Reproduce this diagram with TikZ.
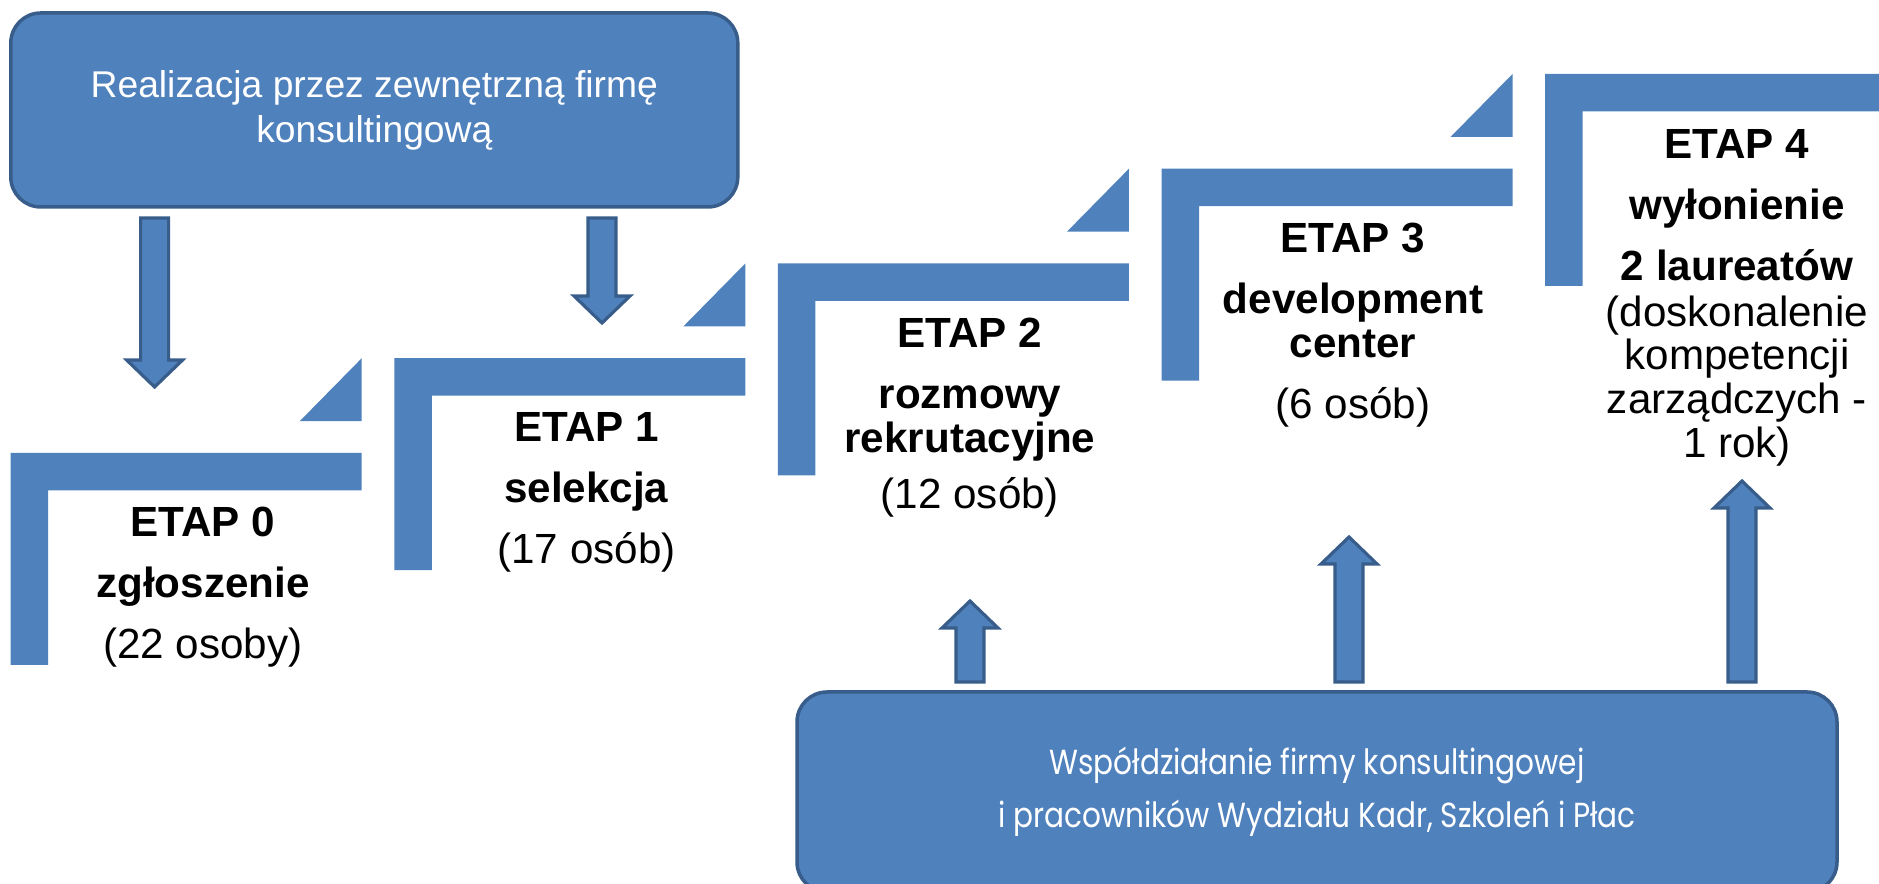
\documentclass[tikz,border=0pt]{standalone}
\usepackage{fontspec}
\setmainfont{Liberation Sans}
\newfontfamily\gothfont[FakeStretch=0.85]{Poppins}
\usepackage{tikz}
\usetikzlibrary{calc}
\definecolor{myblue}{RGB}{79,129,189}
\definecolor{mydarkblue}{RGB}{56,93,138}
\tikzset{
  infobox/.style={rectangle, draw=mydarkblue, fill=myblue, text=white,
    align=center, rounded corners=0.3cm, line width=1pt},
  stepfill/.style={fill=myblue},
  steptext/.style={anchor=north, align=center, inner sep=0pt,
    font=\fontsize{12}{12.5}\selectfont},
  blockarr/.style={draw=mydarkblue, fill=myblue, line width=0.9pt, line join=miter}
}
% fat outlined arrow from #1 (tail) to #2 (tip)
\newcommand{\blockarrow}[2]{%
  \coordinate (ah) at ($(#2)!0.27cm!(#1)$);
  \draw[blockarr] ($(#1)!0.14cm!90:(#2)$) -- ($(ah)!0.14cm!90:(#2)$)
    -- ($(ah)!0.28cm!90:(#2)$) -- (#2) -- ($(ah)!0.28cm!-90:(#2)$)
    -- ($(ah)!0.14cm!-90:(#2)$) -- ($(#1)!0.14cm!-90:(#2)$) -- cycle;
}

\begin{document}
\begin{tikzpicture}
  \useasboundingbox (0,0) rectangle (18.79,8.84);
  \clip (0,0) rectangle (18.79,8.84);

  % Steps (corner shapes and small triangles)
  \foreach \i in {0,...,4} {
    \pgfmathsetmacro\xa{0.107+3.836*\i}
    \pgfmathsetmacro\ya{4.31+0.9475*\i}
    \fill[stepfill] (\xa,\ya) -- ++(3.51,0) -- ++(0,-0.375) -- ++(-3.135,0)
      -- ++(0,-1.745) -- ++(-0.375,0) -- cycle;
    \ifnum\i<4
      \fill[stepfill] (\xa+3.51,\ya+0.9475) -- ++(0,-0.63) -- ++(-0.62,0) -- cycle;
    \fi
  }

  % Step labels
  \node[steptext] (etap0) at (2.03,3.775)
    {\textbf{ETAP 0}\\[4.85pt]\textbf{zgłoszenie}\\[4.85pt](22 osoby)};
  \node[steptext] (etap1) at (5.865,4.7225)
    {\textbf{ETAP 1}\\[4.85pt]\textbf{selekcja}\\[4.85pt](17 osób)};
  \node[steptext] (etap2) at (9.70,5.67)
    {\textbf{ETAP 2}\\[4.85pt]\textbf{rozmowy}\\\textbf{rekrutacyjne}\\[3.6pt](12 osób)};
  \node[steptext] (etap3) at (13.53,6.6175)
    {\textbf{ETAP 3}\\[4.85pt]\textbf{development}\\\textbf{center}\\[4.85pt](6 osób)};
  \node[steptext] (etap4) at (17.37,7.55)
    {\textbf{ETAP 4}\\[4.85pt]\textbf{wyłonienie}\\[4.85pt]\textbf{2 laureatów}\\[0.4pt]
     (doskonalenie\\kompetencji\\zarządczych -\\1 rok)};

  % Top and bottom boxes
  \node[infobox, minimum width=7.27cm, minimum height=1.94cm,
    font=\fontsize{10.6}{12.8}\selectfont] (firma) at (3.743,7.74)
    {Realizacja przez zewnętrzną firmę\\konsultingową};
  \node[infobox, minimum width=10.4cm, minimum height=2cm,
    font=\gothfont\fontsize{9.9}{15.1}\selectfont] (wspolpraca) at (13.17,0.92)
    {Współdziałanie firmy konsultingowej\\i pracowników Wydziału Kadr, Szkoleń i Płac};

  % Arrows
  \coordinate (d0a) at (1.546,6.66);  \coordinate (d0b) at (1.546,4.97);
  \coordinate (d1a) at (6.02,6.66);   \coordinate (d1b) at (6.02,5.61);
  \coordinate (u2a) at (9.70,2.02);   \coordinate (u2b) at (9.70,2.83);
  \coordinate (u3a) at (13.49,2.02);  \coordinate (u3b) at (13.49,3.47);
  \coordinate (u4a) at (17.42,2.02);  \coordinate (u4b) at (17.42,4.03);
  \blockarrow{d0a}{d0b}
  \blockarrow{d1a}{d1b}
  \blockarrow{u2a}{u2b}
  \blockarrow{u3a}{u3b}
  \blockarrow{u4a}{u4b}
\end{tikzpicture}
\end{document}
